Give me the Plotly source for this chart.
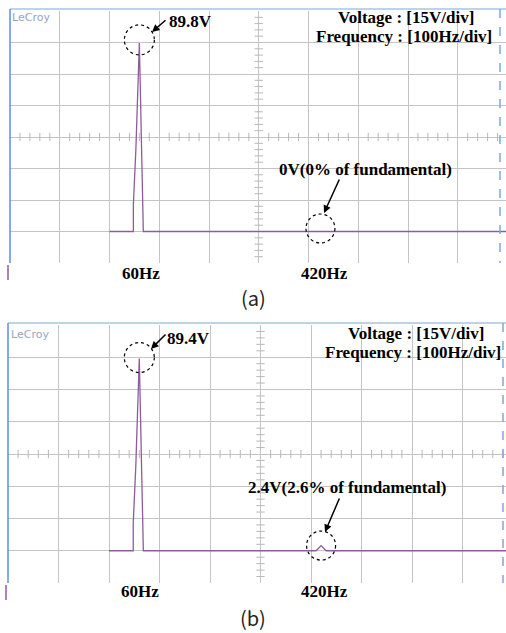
import plotly.graph_objects as go

W, H = 506, 633

# ---------------- data ----------------
freq_a = [0, 48, 48, 53, 60, 64, 68, 68, 800]
volt_a = [0, 0, 13, 39, 89.8, 45, 15, 0, 0]

freq_b = [0, 48, 48, 53, 60, 64, 68, 68, 410, 420, 430, 800]
volt_b = [0, 0, 13, 39, 89.4, 45, 15, 0, 0, 2.4, 0, 0]

peak_a = 89.8
peak_b = 89.4
harm_b = 2.4
fund_hz = 60
harm_hz = 420

V_PER_DIV = 15
HZ_PER_DIV = 100

TRACE = "#8e5c9c"
GRID = "#c4c4c4"

def px(x):
    return x / W

def py(y):
    return 1 - y / H

fig = go.Figure()

panels = {
    "a": dict(left=10, top=11, bottom=263, hdiv=49.75, xa="x", ya="y"),
    "b": dict(left=8, top=325, bottom=583, hdiv=50.5, xa="x2", ya="y2"),
}

layout_axes = {}
for key, p in panels.items():
    xr0 = -2 * HZ_PER_DIV
    xr1 = xr0 + (W - p["left"]) / p["hdiv"] * HZ_PER_DIV
    suffix = "" if key == "a" else "2"
    layout_axes["xaxis" + suffix] = dict(
        domain=[px(p["left"]), 1], range=[xr0, xr1], dtick=HZ_PER_DIV, tick0=0,
        showgrid=True, gridcolor=GRID, gridwidth=1.2, zeroline=False,
        showticklabels=False, ticks="", showline=False, fixedrange=True,
        anchor="y" + suffix,
    )
    layout_axes["yaxis" + suffix] = dict(
        domain=[py(p["bottom"]), py(p["top"])], range=[-V_PER_DIV, 7 * V_PER_DIV],
        dtick=V_PER_DIV, tick0=0,
        showgrid=True, gridcolor=GRID, gridwidth=1.2, zeroline=False,
        showticklabels=False, ticks="", showline=False, fixedrange=True,
        anchor="x" + suffix,
    )
    cx = xr0 + 5 * HZ_PER_DIV
    cy = -V_PER_DIV + 4 * V_PER_DIV
    xt = [xr0 + k * HZ_PER_DIV / 5 for k in range(0, 51) if k % 5 != 0]
    yt = [-V_PER_DIV + k * V_PER_DIV / 5 for k in range(0, 41) if k % 5 != 0]
    fig.add_trace(go.Scatter(x=xt, y=[cy] * len(xt), mode="markers",
                             marker=dict(symbol="line-ns", size=6, line=dict(width=1, color="#b8b8b8")),
                             xaxis=p["xa"], yaxis=p["ya"], hoverinfo="skip", showlegend=False))
    fig.add_trace(go.Scatter(x=[cx] * len(yt), y=yt, mode="markers",
                             marker=dict(symbol="line-ew", size=6, line=dict(width=1, color="#b8b8b8")),
                             xaxis=p["xa"], yaxis=p["ya"], hoverinfo="skip", showlegend=False))

fig.add_trace(go.Scatter(x=freq_a, y=volt_a, mode="lines", line=dict(color=TRACE, width=1.3),
                         xaxis="x", yaxis="y", showlegend=False))
fig.add_trace(go.Scatter(x=freq_b, y=volt_b, mode="lines", line=dict(color=TRACE, width=1.3),
                         xaxis="x2", yaxis="y2", showlegend=False))

shapes = []
annots = []

def border(left, top, bottom, rightx):
    shapes.append(dict(type="line", xref="paper", yref="paper", x0=px(left), x1=1,
                       y0=py(top - 2), y1=py(top - 2), line=dict(color="#a9c3e6", width=1.5)))
    shapes.append(dict(type="line", xref="paper", yref="paper", x0=px(left), x1=px(left),
                       y0=py(top - 2), y1=py(bottom), line=dict(color="#5b8ee6", width=1.5)))
    shapes.append(dict(type="line", xref="paper", yref="paper", x0=px(rightx), x1=px(rightx),
                       y0=py(top - 2), y1=py(bottom), line=dict(color="#7ea5e6", width=1.5, dash="dash")))
    shapes.append(dict(type="line", xref="paper", yref="paper", x0=px(left - 2), x1=px(left - 2),
                       y0=py(bottom + 2), y1=py(bottom + 17), line=dict(color=TRACE, width=1.5)))

border(10, 11, 263, 500)
border(8, 325, 583, 503)

def circ(xa, ya, xc, yc, dx, dy, r):
    shapes.append(dict(type="circle", xref=xa, yref=ya, xsizemode="pixel", ysizemode="pixel",
                       xanchor=xc, yanchor=yc, x0=dx - r, x1=dx + r, y0=dy - r, y1=dy + r,
                       line=dict(color="black", width=1.2, dash="dot")))

circ("x", "y", fund_hz, peak_a, 0, 3, 15)
circ("x", "y", harm_hz, 0, 2, 3, 14.5)
circ("x2", "y2", fund_hz, peak_b, 0, 1, 15)
circ("x2", "y2", harm_hz, harm_b, 0, 0, 14.5)

SERIF = "Liberation Serif"

def text(t, x, y, size=17, bold=True, family=SERIF, color="black"):
    annots.append(dict(text=("<b>%s</b>" % t) if bold else t, x=px(x), y=py(y),
                       xref="paper", yref="paper", showarrow=False, xanchor="center",
                       yanchor="middle", font=dict(family=family, size=size, color=color)))

def arrow(hx, hy, tx, ty):
    annots.append(dict(text="", x=px(hx), y=py(hy), xref="paper", yref="paper",
                       ax=tx - hx, ay=ty - hy, showarrow=True, arrowhead=2, arrowsize=1,
                       arrowwidth=1.5, arrowcolor="black", standoff=0, startstandoff=0))

# panel (a)
text("%.1fV" % peak_a, 190, 22)
arrow(152, 32, 167, 19)
text("Voltage : [%dV/div]" % V_PER_DIV, 406, 17)
text("Frequency : [%dHz/div]" % HZ_PER_DIV, 404, 37)
text("0V(0% of fundamental)", 365, 170)
arrow(324, 213, 340, 178)
text("%dHz" % fund_hz, 141, 274)
text("%dHz" % harm_hz, 324, 274)
text("(a)", 253, 297, size=20, bold=False, family="Noto Sans CJK KR", color="#222")
text("LeCroy", 31, 18, size=11, bold=False, family="DejaVu Sans", color="#97a6c2")

# panel (b)
text("%.1fV" % peak_b, 188, 338)
arrow(151, 349, 167, 333)
text("Voltage : [%dV/div]" % V_PER_DIV, 416, 333)
text("Frequency : [%dHz/div]" % HZ_PER_DIV, 413, 353)
text("%.1fV(2.6%% of fundamental)" % harm_b, 347, 487)
arrow(325, 532, 340, 497)
text("%dHz" % fund_hz, 140, 591)
text("%dHz" % harm_hz, 324, 591)
text("(b)", 253, 617, size=20, bold=False, family="Noto Sans CJK KR", color="#222")
text("LeCroy", 30, 334, size=11, bold=False, family="DejaVu Sans", color="#97a6c2")

fig.update_layout(
    width=W, height=H, autosize=False,
    margin=dict(l=0, r=0, t=0, b=0),
    paper_bgcolor="white", plot_bgcolor="white",
    shapes=shapes, annotations=annots, showlegend=False,
    **layout_axes,
)

fig.write_html("out.html")
